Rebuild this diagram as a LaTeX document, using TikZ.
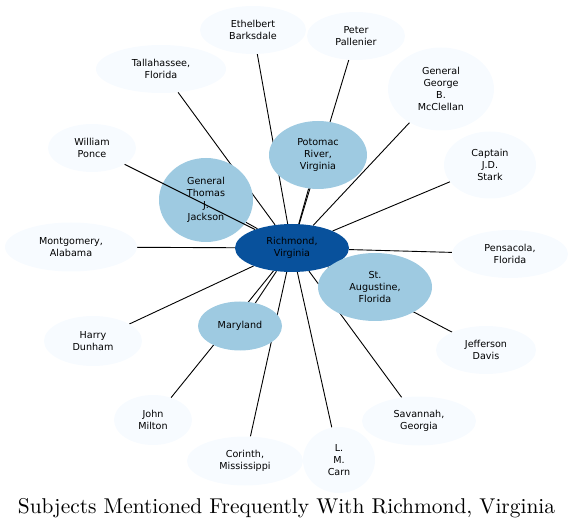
\documentclass[tikz,border=0pt]{standalone}
\usepackage{fontspec}
\newfontfamily\nodefont{DejaVu Sans}
\newfontfamily\titlefont[Extension=.otf]{lmroman10-regular}
\usetikzlibrary{shapes.geometric}
\pgfdeclarelayer{background}
\pgfsetlayers{background,main}
\definecolor{lightblue}{HTML}{F7FBFF}
\definecolor{midblue}{HTML}{9ECAE1}
\definecolor{darkblue}{HTML}{08519C}
\tikzset{
  base/.style={ellipse, inner sep=0pt, align=center, font=\nodefont\fontsize{9.6}{12}\selectfont, text=black},
  leaf/.style={base, fill=lightblue},
  mid/.style={base, fill=midblue},
  hub/.style={base, fill=darkblue},
  edge/.style={draw=black, line width=0.9pt}
}
\begin{document}
\begin{tikzpicture}[x=1pt,y=-1pt]
\useasboundingbox (0,0) rectangle (573,529);
% hub
\node[hub, minimum width=114pt, minimum height=48pt] (rich) at (292,248) {Richmond,\\Virginia};
% leaves
\node[leaf, minimum width=106pt, minimum height=48pt] (eth) at (253,30) {Ethelbert\\Barksdale};
\node[leaf, minimum width=98pt, minimum height=48pt] (pet) at (356,36) {Peter\\Pallenier};
\node[leaf, minimum width=130pt, minimum height=48pt] (tal) at (161,69) {Tallahassee,\\Florida};
\node[leaf, minimum width=106pt, minimum height=83pt] (mcc) at (441,89) {General\\George\\B.\\McClellan};
\node[leaf, minimum width=88pt, minimum height=48pt] (pon) at (92,148) {William\\Ponce};
\node[leaf, minimum width=92pt, minimum height=67pt] (sta) at (490,165) {Captain\\J.D.\\Stark};
\node[leaf, minimum width=132pt, minimum height=49pt] (mon) at (71,247) {Montgomery,\\Alabama};
\node[leaf, minimum width=116pt, minimum height=48pt] (pen) at (510,254) {Pensacola,\\Florida};
\node[leaf, minimum width=98pt, minimum height=50pt] (har) at (93,341) {Harry\\Dunham};
\node[leaf, minimum width=100pt, minimum height=48pt] (jef) at (486,350) {Jefferson\\Davis};
\node[leaf, minimum width=78pt, minimum height=50pt] (mil) at (153,420) {John\\Milton};
\node[leaf, minimum width=114pt, minimum height=49pt] (sav) at (419,421) {Savannah,\\Georgia};
\node[leaf, minimum width=116pt, minimum height=49pt] (cor) at (245,461) {Corinth,\\Mississippi};
\node[leaf, minimum width=72pt, minimum height=66pt] (car) at (339,460) {L.\\M.\\Carn};
% mid
\node[mid, minimum width=94pt, minimum height=84pt] (jac) at (206,200) {General\\Thomas\\J.\\Jackson};
\node[mid, minimum width=98pt, minimum height=68pt] (pot) at (318,155) {Potomac\\River,\\Virginia};
\node[mid, minimum width=114pt, minimum height=68pt] (aug) at (375,287) {St.\\Augustine,\\Florida};
\node[mid, minimum width=84pt, minimum height=49pt] (mar) at (240,326) {Maryland};
% edges under nodes
\begin{pgfonlayer}{background}
\foreach \n in {eth,pet,tal,mcc,sta,mon,pen,har,jef,mil,sav,cor,car,jac,pot,aug,mar}
  \draw[edge] (rich) -- (\n);
\end{pgfonlayer}
% edge drawn over a node
\draw[edge] (rich) -- (pon);
% title
\node[inner sep=0pt, anchor=base, font=\titlefont\fontsize{21.4}{24}\selectfont] (title) at (286.5,513) {Subjects Mentioned Frequently With Richmond, Virginia};
\end{tikzpicture}
\end{document}
